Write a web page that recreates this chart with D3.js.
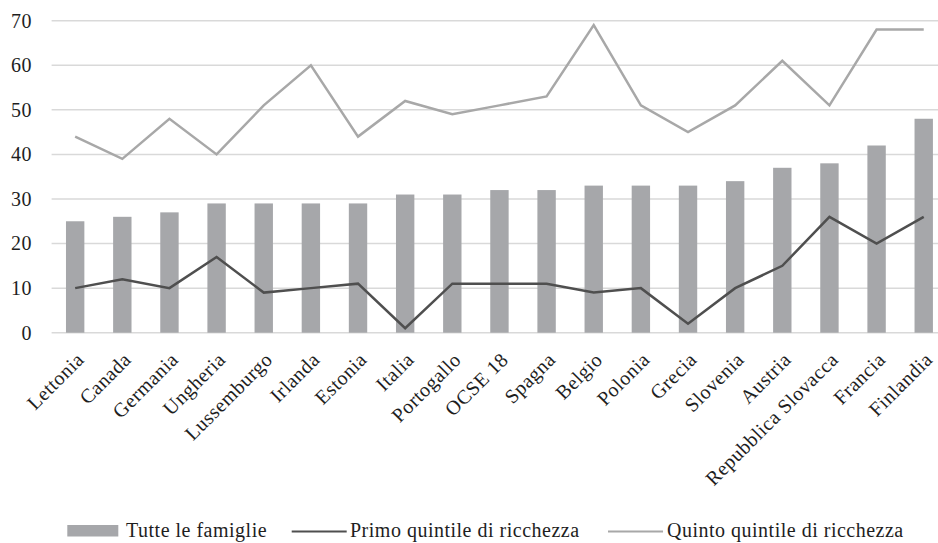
<!DOCTYPE html>
<html lang="it">
<head>
<meta charset="utf-8">
<script src="https://cdn.jsdelivr.net/npm/d3@7"></script>
<style>
  html, body { margin: 0; padding: 0; background: #ffffff; }
  svg { display: block; }
  text { font-family: "Liberation Serif", "DejaVu Serif", serif; fill: #1e1e1e; }
</style>
</head>
<body>
<svg id="chart" width="938" height="543"></svg>
<script>
// Paesi, in ordine crescente per "Tutte le famiglie"
const categories = [
  "Lettonia", "Canada", "Germania", "Ungheria", "Lussemburgo", "Irlanda",
  "Estonia", "Italia", "Portogallo", "OCSE 18", "Spagna", "Belgio",
  "Polonia", "Grecia", "Slovenia", "Austria", "Repubblica Slovacca",
  "Francia", "Finlandia"
];
const tutteLeFamiglie = [25, 26, 27, 29, 29, 29, 29, 31, 31, 32, 32, 33, 33, 33, 34, 37, 38, 42, 48];
const primoQuintile   = [10, 12, 10, 17, 9, 10, 11, 1, 11, 11, 11, 9, 10, 2, 10, 15, 26, 20, 26];
const quintoQuintile  = [44, 39, 48, 40, 51, 60, 44, 52, 49, 51, 53, 69, 51, 45, 51, 61, 51, 68, 68];
const yTicks = [0, 10, 20, 30, 40, 50, 60, 70];
const seriesNames = ["Tutte le famiglie", "Primo quintile di ricchezza", "Quinto quintile di ricchezza"];

const colBar = "#a6a7aa";
const colDark = "#4f4f4f";
const colLight = "#a8a8a8";
const colGrid = "#d9d9d9";
const fontSize = 20;
const spacing = 0.5;

const svg = d3.select("#chart");
const W = 938;

const x = d3.scaleBand()
  .domain(categories)
  .range([51.6, 947.3])
  .paddingInner(0.61)
  .paddingOuter(0.305);
const y = d3.scaleLinear().domain([0, 70]).range([332.7, 20.7]);
const cx = d => x(d) + x.bandwidth() / 2;

// griglia orizzontale
svg.append("g")
  .selectAll("line")
  .data(yTicks)
  .join("line")
  .attr("x1", 51.6).attr("x2", W)
  .attr("y1", d => y(d)).attr("y2", d => y(d))
  .attr("stroke", colGrid)
  .attr("stroke-width", 1.5);

// etichette asse y
const yAxis = d3.axisLeft(y).tickValues(yTicks).tickSize(0).tickPadding(0);
const gy = svg.append("g")
  .attr("transform", "translate(32,0)")
  .call(yAxis);
gy.select(".domain").remove();
gy.selectAll("text")
  .attr("font-family", "Liberation Serif, serif")
  .attr("font-size", fontSize)
  .attr("letter-spacing", spacing)
  .attr("fill", "#1e1e1e");

// barre
svg.append("g")
  .selectAll("rect")
  .data(categories)
  .join("rect")
  .attr("x", d => x(d))
  .attr("width", x.bandwidth())
  .attr("y", (d, i) => y(tutteLeFamiglie[i]))
  .attr("height", (d, i) => y(0) - y(tutteLeFamiglie[i]))
  .attr("fill", colBar);

// linee dei quintili
const line = d3.line()
  .x((v, i) => cx(categories[i]))
  .y(v => y(v));

svg.append("path")
  .datum(quintoQuintile)
  .attr("d", line)
  .attr("fill", "none")
  .attr("stroke", colLight)
  .attr("stroke-width", 2.5)
  .attr("stroke-linejoin", "miter");

svg.append("path")
  .datum(primoQuintile)
  .attr("d", line)
  .attr("fill", "none")
  .attr("stroke", colDark)
  .attr("stroke-width", 2.5)
  .attr("stroke-linejoin", "miter");

// etichette asse x, ruotate di 45 gradi
const xAxis = d3.axisBottom(x).tickSize(0).tickPadding(0);
const gx = svg.append("g").call(xAxis);
gx.select(".domain").remove();
gx.selectAll(".tick").attr("transform", null);
gx.selectAll(".tick text")
  .attr("font-family", "Liberation Serif, serif")
  .attr("font-size", fontSize)
  .attr("letter-spacing", spacing)
  .attr("fill", "#1e1e1e")
  .attr("text-anchor", "end")
  .attr("y", null)
  .attr("dy", "0.35em")
  .attr("transform", d => `translate(${cx(d) + 5},356) rotate(-45)`);

// legenda
const lg = svg.append("g").attr("font-size", fontSize).attr("letter-spacing", spacing);
lg.append("rect")
  .attr("x", 67.3).attr("y", 525).attr("width", 51).attr("height", 11.5)
  .attr("fill", colBar);
lg.append("text").attr("x", 126).attr("y", 537).text(seriesNames[0]);

lg.append("line")
  .attr("x1", 291.7).attr("x2", 346.7).attr("y1", 531.5).attr("y2", 531.5)
  .attr("stroke", colDark).attr("stroke-width", 2);
lg.append("text").attr("x", 350).attr("y", 537).text(seriesNames[1]);

lg.append("line")
  .attr("x1", 608).attr("x2", 663).attr("y1", 531.5).attr("y2", 531.5)
  .attr("stroke", colLight).attr("stroke-width", 2);
lg.append("text").attr("x", 667).attr("y", 537).text(seriesNames[2]);
</script>
</body>
</html>
